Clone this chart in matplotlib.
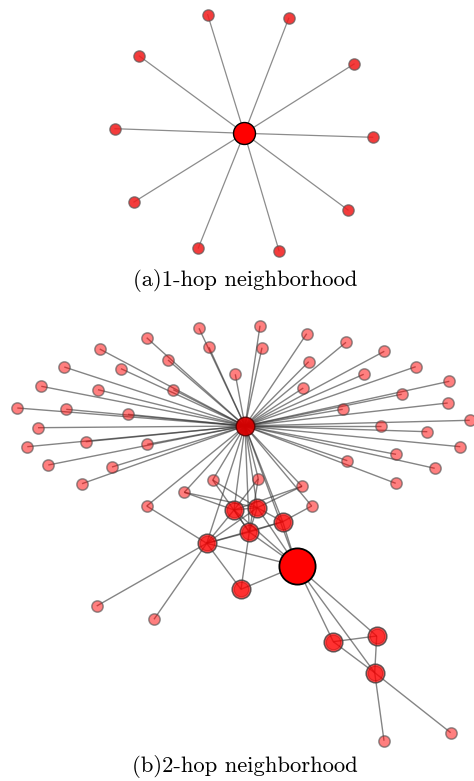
import matplotlib
matplotlib.use("Agg")
import matplotlib.pyplot as plt

# ---------------- data (pixel-space layout) ----------------
# (a) 1-hop neighbourhood
hop1_center = (244.3, 133.3)
hop1_leaves_x = [207.7, 288.7, 139.3, 354.0, 115.0, 372.7, 134.0, 348.0, 198.3, 279.0]
hop1_leaves_y = [14.7, 18.3, 56.0, 64.0, 128.7, 137.3, 202.0, 210.0, 248.0, 250.7]

# (b) 2-hop neighbourhood
hub = (245.0, 426.0)
target = (296.7, 566.0)
fan_x = [199.0, 260.0, 146.7, 209.0, 262.0, 306.7, 346.0, 99.7, 168.0, 384.3,
         308.7, 64.3, 121.0, 235.3, 415.7, 363.7, 41.3, 98.0, 173.3, 303.3,
         449.3, 401.7, 17.3, 66.3, 128.0, 342.7, 447.7, 38.0, 380.7, 469.7,
         427.3, 27.3, 85.7, 147.3, 460.3, 396.0, 48.3, 112.0, 347.3, 434.7,
         82.0, 395.7, 212.7, 258.3, 184.3, 302.0, 146.7, 311.7]
fan_y = [328.3, 325.7, 337.7, 347.3, 347.7, 333.7, 342.3, 349.0, 360.0, 351.3,
         361.7, 367.0, 368.7, 374.3, 366.7, 374.3, 386.3, 389.7, 389.7, 388.0,
         381.3, 394.3, 408.0, 409.3, 414.3, 409.3, 403.0, 427.7, 426.0, 420.3,
         431.7, 446.7, 441.7, 444.3, 446.7, 454.3, 465.0, 467.0, 460.7, 468.3,
         483.7, 483.3, 480.0, 478.7, 492.3, 486.3, 506.0, 506.0]
mid_x = [234.0, 257.3, 282.7, 249.3, 206.7, 241.0, 333.3, 376.7, 374.7]
mid_y = [510.0, 507.7, 521.7, 532.0, 543.3, 589.3, 641.7, 636.0, 672.7]
outer_x = [96.7, 154.0, 384.0, 450.7]
outer_y = [606.0, 619.3, 740.7, 732.7]

# edges among named nodes: 'H' hub, 'T' target, 'm#' mid, 'f#' fan, 'o#' outer
extra_edges = [
    ("f44", "m0"), ("f44", "m1"), ("f42", "m1"), ("f42", "m3"),
    ("f43", "m0"), ("f43", "m3"), ("f45", "m1"), ("f45", "m0"),
    ("f47", "m2"), ("f46", "m4"),
    ("m4", "H"), ("m4", "m0"), ("m4", "m1"), ("m4", "m2"), ("m4", "m3"),
    ("m4", "T"), ("m4", "m5"), ("m4", "o0"), ("m4", "o1"),
    ("m0", "H"), ("m0", "m3"), ("m0", "T"), ("m0", "m1"),
    ("m1", "H"), ("m1", "m3"), ("m1", "T"), ("m1", "m2"),
    ("m2", "H"), ("m2", "m3"), ("m2", "T"),
    ("m3", "H"), ("m3", "m5"), ("m3", "T"),
    ("m5", "T"),
    ("T", "H"), ("T", "m6"), ("T", "m7"), ("T", "m8"),
    ("m6", "m7"), ("m6", "m8"), ("m7", "m8"),
    ("m8", "o2"), ("m8", "o3"),
]

captions = ["(a)1-hop neighborhood", "(b)2-hop neighborhood"]

# ---------------- drawing ----------------
W, H = 474, 781
fig = plt.figure(figsize=(W / 100, H / 100), dpi=100)
ax = fig.add_axes([0, 0, 1, 1])
ax.set_xlim(0, W)
ax.set_ylim(H, 0)
ax.axis("off")

# (a)
for x, y in zip(hop1_leaves_x, hop1_leaves_y):
    ax.plot([hop1_center[0], x], [hop1_center[1], y], color="#8c8c8c", lw=0.9, zorder=1)
ax.scatter(hop1_leaves_x, hop1_leaves_y, s=66, color=(0.95, 0.1, 0.1, 0.85),
           edgecolors=(0.35, 0.35, 0.35, 0.7), linewidths=1.0, zorder=3)
ax.scatter([hop1_center[0]], [hop1_center[1]], s=250, color="red",
           edgecolors="black", linewidths=1.0, zorder=4)

# (b)
pos = {"H": hub, "T": target}
for i, (x, y) in enumerate(zip(fan_x, fan_y)):
    pos[f"f{i}"] = (x, y)
for i, (x, y) in enumerate(zip(mid_x, mid_y)):
    pos[f"m{i}"] = (x, y)
for i, (x, y) in enumerate(zip(outer_x, outer_y)):
    pos[f"o{i}"] = (x, y)

edges = [("H", f"f{i}") for i in range(len(fan_x))] + extra_edges
ecol = (0.2, 0.2, 0.2, 0.6)
for a, b in edges:
    (x1, y1), (x2, y2) = pos[a], pos[b]
    ax.plot([x1, x2], [y1, y2], color=ecol, lw=1.0, zorder=1,
            solid_capstyle="butt")

light_x = fan_x + outer_x
light_y = fan_y + outer_y
ax.scatter(light_x, light_y, s=66, color=(1.0, 0.0, 0.0, 0.5),
           edgecolors=(0.3, 0.3, 0.3, 0.6), linewidths=1.1, zorder=3)
ax.scatter(mid_x, mid_y, s=180, color=(1.0, 0.0, 0.0, 0.7),
           edgecolors=(0.25, 0.25, 0.25, 0.8), linewidths=1.1, zorder=4)
ax.scatter(mid_x, mid_y, s=110, color=(1.0, 0.0, 0.0, 0.35),
           edgecolors=(0.6, 0.0, 0.0, 0.35), linewidths=0.8, zorder=4)
ax.scatter([hub[0]], [hub[1]], s=180, color=(0.85, 0.0, 0.0, 0.95),
           edgecolors=(0.3, 0.0, 0.0, 0.8), linewidths=1.0, zorder=5)
ax.scatter([target[0]], [target[1]], s=680, color="red",
           edgecolors="black", linewidths=1.3, zorder=6)

ax.text(245, 280, captions[0], ha="center", va="center", fontsize=16.3,
        family="cmr10", zorder=7)
ax.text(245, 767, captions[1], ha="center", va="center", fontsize=16.3,
        family="cmr10", zorder=7)

fig.savefig("out.png", dpi=100)
